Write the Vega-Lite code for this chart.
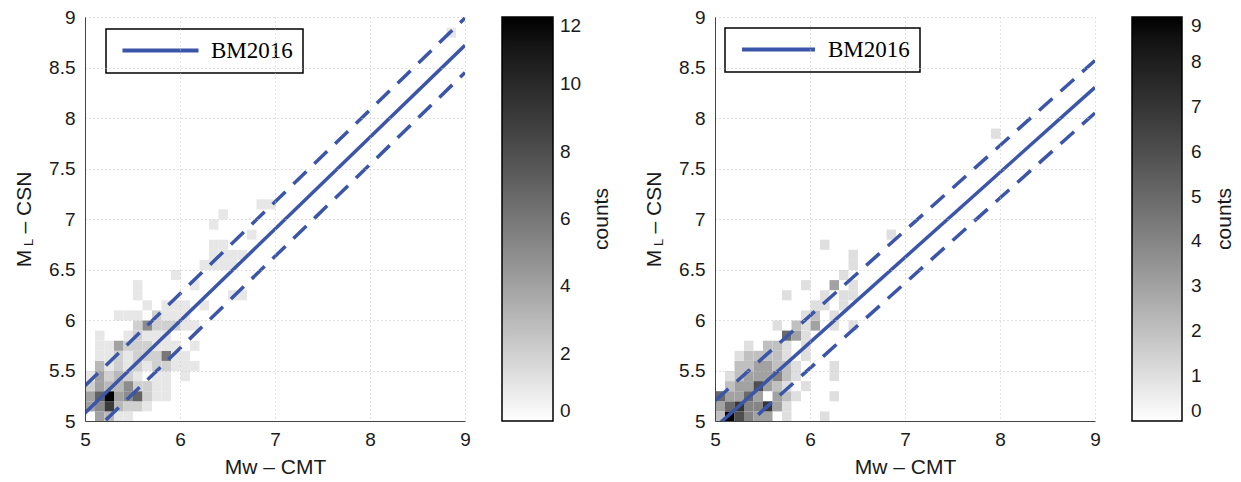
{
  "$schema": "https://vega.github.io/schema/vega-lite/v6.json",
  "background": "white",
  "padding": {"left": 13, "top": 8, "right": 5, "bottom": 5},
  "spacing": 31,
  "resolve": {
    "scale": {"fill": "independent", "stroke": "independent", "x": "independent", "y": "independent"},
    "legend": {"fill": "independent", "stroke": "independent"}
  },
  "datasets": {
    "cells_a": [
      {"mw": 5.1, "ml": 5.0, "n": 4}, {"mw": 5.2, "ml": 5.0, "n": 3}, {"mw": 5.3, "ml": 5.0, "n": 1}, {"mw": 5.4, "ml": 5.0, "n": 1},
      {"mw": 5.0, "ml": 5.1, "n": 4}, {"mw": 5.1, "ml": 5.1, "n": 5}, {"mw": 5.2, "ml": 5.1, "n": 9}, {"mw": 5.3, "ml": 5.1, "n": 3}, {"mw": 5.4, "ml": 5.1, "n": 2}, {"mw": 5.5, "ml": 5.1, "n": 2}, {"mw": 5.6, "ml": 5.1, "n": 1},
      {"mw": 5.0, "ml": 5.2, "n": 4}, {"mw": 5.1, "ml": 5.2, "n": 7}, {"mw": 5.2, "ml": 5.2, "n": 12}, {"mw": 5.3, "ml": 5.2, "n": 4}, {"mw": 5.4, "ml": 5.2, "n": 5}, {"mw": 5.5, "ml": 5.2, "n": 7}, {"mw": 5.6, "ml": 5.2, "n": 2}, {"mw": 5.7, "ml": 5.2, "n": 1}, {"mw": 5.8, "ml": 5.2, "n": 1},
      {"mw": 5.0, "ml": 5.3, "n": 2}, {"mw": 5.1, "ml": 5.3, "n": 4}, {"mw": 5.2, "ml": 5.3, "n": 3}, {"mw": 5.3, "ml": 5.3, "n": 3}, {"mw": 5.4, "ml": 5.3, "n": 5}, {"mw": 5.5, "ml": 5.3, "n": 2}, {"mw": 5.6, "ml": 5.3, "n": 2}, {"mw": 5.7, "ml": 5.3, "n": 1}, {"mw": 5.8, "ml": 5.3, "n": 1},
      {"mw": 5.0, "ml": 5.4, "n": 1}, {"mw": 5.1, "ml": 5.4, "n": 4}, {"mw": 5.2, "ml": 5.4, "n": 2}, {"mw": 5.3, "ml": 5.4, "n": 3}, {"mw": 5.4, "ml": 5.4, "n": 2}, {"mw": 5.5, "ml": 5.4, "n": 1}, {"mw": 5.7, "ml": 5.4, "n": 1}, {"mw": 5.8, "ml": 5.4, "n": 1}, {"mw": 6.0, "ml": 5.4, "n": 1},
      {"mw": 5.1, "ml": 5.5, "n": 3}, {"mw": 5.2, "ml": 5.5, "n": 1}, {"mw": 5.3, "ml": 5.5, "n": 2}, {"mw": 5.4, "ml": 5.5, "n": 1}, {"mw": 5.5, "ml": 5.5, "n": 2}, {"mw": 5.6, "ml": 5.5, "n": 1}, {"mw": 5.7, "ml": 5.5, "n": 2}, {"mw": 5.8, "ml": 5.5, "n": 2}, {"mw": 5.9, "ml": 5.5, "n": 1}, {"mw": 6.0, "ml": 5.5, "n": 1}, {"mw": 6.1, "ml": 5.5, "n": 1},
      {"mw": 5.1, "ml": 5.6, "n": 1}, {"mw": 5.2, "ml": 5.6, "n": 1}, {"mw": 5.3, "ml": 5.6, "n": 2}, {"mw": 5.4, "ml": 5.6, "n": 1}, {"mw": 5.5, "ml": 5.6, "n": 2}, {"mw": 5.6, "ml": 5.6, "n": 2}, {"mw": 5.7, "ml": 5.6, "n": 2}, {"mw": 5.8, "ml": 5.6, "n": 6}, {"mw": 5.9, "ml": 5.6, "n": 1}, {"mw": 6.0, "ml": 5.6, "n": 1},
      {"mw": 5.1, "ml": 5.7, "n": 1}, {"mw": 5.2, "ml": 5.7, "n": 1}, {"mw": 5.3, "ml": 5.7, "n": 4}, {"mw": 5.4, "ml": 5.7, "n": 2}, {"mw": 5.5, "ml": 5.7, "n": 2}, {"mw": 5.6, "ml": 5.7, "n": 2}, {"mw": 5.7, "ml": 5.7, "n": 1}, {"mw": 5.8, "ml": 5.7, "n": 1}, {"mw": 5.9, "ml": 5.7, "n": 1}, {"mw": 6.1, "ml": 5.7, "n": 1},
      {"mw": 5.1, "ml": 5.8, "n": 1}, {"mw": 5.4, "ml": 5.8, "n": 1}, {"mw": 5.5, "ml": 5.8, "n": 2}, {"mw": 5.6, "ml": 5.8, "n": 1}, {"mw": 5.7, "ml": 5.8, "n": 1}, {"mw": 5.8, "ml": 5.8, "n": 1},
      {"mw": 5.5, "ml": 5.9, "n": 2}, {"mw": 5.6, "ml": 5.9, "n": 5}, {"mw": 5.7, "ml": 5.9, "n": 2}, {"mw": 5.8, "ml": 5.9, "n": 2}, {"mw": 5.9, "ml": 5.9, "n": 2}, {"mw": 6.0, "ml": 5.9, "n": 1}, {"mw": 6.1, "ml": 5.9, "n": 1},
      {"mw": 5.3, "ml": 6.0, "n": 1}, {"mw": 5.4, "ml": 6.0, "n": 1}, {"mw": 5.5, "ml": 6.0, "n": 1}, {"mw": 5.7, "ml": 6.0, "n": 2}, {"mw": 5.8, "ml": 6.0, "n": 1}, {"mw": 5.9, "ml": 6.0, "n": 1}, {"mw": 6.0, "ml": 6.0, "n": 1},
      {"mw": 5.6, "ml": 6.1, "n": 1}, {"mw": 5.8, "ml": 6.1, "n": 1}, {"mw": 5.9, "ml": 6.1, "n": 1}, {"mw": 6.0, "ml": 6.1, "n": 1}, {"mw": 6.2, "ml": 6.1, "n": 1},
      {"mw": 5.5, "ml": 6.2, "n": 1}, {"mw": 6.5, "ml": 6.2, "n": 1}, {"mw": 6.6, "ml": 6.2, "n": 1},
      {"mw": 5.5, "ml": 6.3, "n": 1}, {"mw": 6.1, "ml": 6.3, "n": 1},
      {"mw": 5.9, "ml": 6.4, "n": 1},
      {"mw": 6.2, "ml": 6.5, "n": 1}, {"mw": 6.3, "ml": 6.5, "n": 1}, {"mw": 6.4, "ml": 6.5, "n": 1}, {"mw": 6.5, "ml": 6.5, "n": 1},
      {"mw": 6.3, "ml": 6.6, "n": 1}, {"mw": 6.4, "ml": 6.6, "n": 1}, {"mw": 6.5, "ml": 6.6, "n": 1}, {"mw": 6.6, "ml": 6.6, "n": 1},
      {"mw": 6.3, "ml": 6.7, "n": 1}, {"mw": 6.4, "ml": 6.7, "n": 1},
      {"mw": 6.7, "ml": 6.8, "n": 1},
      {"mw": 6.3, "ml": 6.9, "n": 1},
      {"mw": 6.4, "ml": 7.0, "n": 1},
      {"mw": 6.8, "ml": 7.1, "n": 1}, {"mw": 6.9, "ml": 7.1, "n": 1},
      {"mw": 8.8, "ml": 8.8, "n": 1}
    ],
    "cells_b": [
      {"mw": 5.0, "ml": 5.0, "n": 2}, {"mw": 5.1, "ml": 5.0, "n": 9}, {"mw": 5.2, "ml": 5.0, "n": 6}, {"mw": 5.3, "ml": 5.0, "n": 4}, {"mw": 5.4, "ml": 5.0, "n": 3}, {"mw": 5.5, "ml": 5.0, "n": 3}, {"mw": 5.7, "ml": 5.0, "n": 1}, {"mw": 6.1, "ml": 5.0, "n": 1},
      {"mw": 5.0, "ml": 5.1, "n": 3}, {"mw": 5.1, "ml": 5.1, "n": 5}, {"mw": 5.2, "ml": 5.1, "n": 7}, {"mw": 5.3, "ml": 5.1, "n": 4}, {"mw": 5.4, "ml": 5.1, "n": 4}, {"mw": 5.5, "ml": 5.1, "n": 7}, {"mw": 5.6, "ml": 5.1, "n": 3}, {"mw": 5.7, "ml": 5.1, "n": 1},
      {"mw": 5.0, "ml": 5.2, "n": 5}, {"mw": 5.1, "ml": 5.2, "n": 3}, {"mw": 5.2, "ml": 5.2, "n": 3}, {"mw": 5.3, "ml": 5.2, "n": 5}, {"mw": 5.4, "ml": 5.2, "n": 3}, {"mw": 5.6, "ml": 5.2, "n": 3}, {"mw": 5.7, "ml": 5.2, "n": 2}, {"mw": 5.8, "ml": 5.2, "n": 1}, {"mw": 6.2, "ml": 5.2, "n": 1},
      {"mw": 5.1, "ml": 5.3, "n": 2}, {"mw": 5.2, "ml": 5.3, "n": 3}, {"mw": 5.3, "ml": 5.3, "n": 3}, {"mw": 5.4, "ml": 5.3, "n": 6}, {"mw": 5.5, "ml": 5.3, "n": 3}, {"mw": 5.6, "ml": 5.3, "n": 2}, {"mw": 5.7, "ml": 5.3, "n": 1}, {"mw": 5.9, "ml": 5.3, "n": 1},
      {"mw": 5.1, "ml": 5.4, "n": 1}, {"mw": 5.2, "ml": 5.4, "n": 2}, {"mw": 5.3, "ml": 5.4, "n": 3}, {"mw": 5.4, "ml": 5.4, "n": 3}, {"mw": 5.5, "ml": 5.4, "n": 3}, {"mw": 5.6, "ml": 5.4, "n": 4}, {"mw": 5.7, "ml": 5.4, "n": 2}, {"mw": 5.8, "ml": 5.4, "n": 1}, {"mw": 6.2, "ml": 5.4, "n": 1},
      {"mw": 5.2, "ml": 5.5, "n": 2}, {"mw": 5.3, "ml": 5.5, "n": 2}, {"mw": 5.4, "ml": 5.5, "n": 3}, {"mw": 5.5, "ml": 5.5, "n": 3}, {"mw": 5.6, "ml": 5.5, "n": 2}, {"mw": 5.7, "ml": 5.5, "n": 2}, {"mw": 5.8, "ml": 5.5, "n": 1}, {"mw": 6.2, "ml": 5.5, "n": 1},
      {"mw": 5.2, "ml": 5.6, "n": 1}, {"mw": 5.3, "ml": 5.6, "n": 2}, {"mw": 5.4, "ml": 5.6, "n": 2}, {"mw": 5.5, "ml": 5.6, "n": 2}, {"mw": 5.6, "ml": 5.6, "n": 2}, {"mw": 5.7, "ml": 5.6, "n": 1}, {"mw": 5.9, "ml": 5.6, "n": 1},
      {"mw": 5.3, "ml": 5.7, "n": 1}, {"mw": 5.5, "ml": 5.7, "n": 2}, {"mw": 5.6, "ml": 5.7, "n": 2}, {"mw": 5.7, "ml": 5.7, "n": 1}, {"mw": 5.9, "ml": 5.7, "n": 1},
      {"mw": 5.7, "ml": 5.8, "n": 5}, {"mw": 5.8, "ml": 5.8, "n": 3}, {"mw": 5.9, "ml": 5.8, "n": 1},
      {"mw": 5.6, "ml": 5.9, "n": 1}, {"mw": 5.8, "ml": 5.9, "n": 2}, {"mw": 5.9, "ml": 5.9, "n": 1}, {"mw": 6.0, "ml": 5.9, "n": 3}, {"mw": 6.2, "ml": 5.9, "n": 1}, {"mw": 6.4, "ml": 5.9, "n": 1},
      {"mw": 5.9, "ml": 6.0, "n": 1}, {"mw": 6.0, "ml": 6.0, "n": 2}, {"mw": 6.2, "ml": 6.0, "n": 1},
      {"mw": 6.0, "ml": 6.1, "n": 1}, {"mw": 6.1, "ml": 6.1, "n": 1}, {"mw": 6.3, "ml": 6.1, "n": 1},
      {"mw": 5.7, "ml": 6.2, "n": 1}, {"mw": 6.1, "ml": 6.2, "n": 1}, {"mw": 6.3, "ml": 6.2, "n": 1}, {"mw": 6.4, "ml": 6.2, "n": 1},
      {"mw": 5.9, "ml": 6.3, "n": 1}, {"mw": 6.2, "ml": 6.3, "n": 3}, {"mw": 6.4, "ml": 6.3, "n": 1},
      {"mw": 6.3, "ml": 6.4, "n": 1},
      {"mw": 6.4, "ml": 6.5, "n": 1},
      {"mw": 6.4, "ml": 6.6, "n": 1},
      {"mw": 6.1, "ml": 6.7, "n": 1},
      {"mw": 6.8, "ml": 6.8, "n": 1},
      {"mw": 7.9, "ml": 7.8, "n": 1}
    ],
    "lines_a": [
      {"mw": 5, "ml": 5.08, "band": "fit", "model": "BM2016"},
      {"mw": 9, "ml": 8.72, "band": "fit", "model": "BM2016"},
      {"mw": 5, "ml": 5.35, "band": "upper", "model": "BM2016"},
      {"mw": 9, "ml": 8.99, "band": "upper", "model": "BM2016"},
      {"mw": 5, "ml": 4.81, "band": "lower", "model": "BM2016"},
      {"mw": 9, "ml": 8.45, "band": "lower", "model": "BM2016"}
    ],
    "lines_b": [
      {"mw": 5, "ml": 4.936, "band": "fit", "model": "BM2016"},
      {"mw": 9, "ml": 8.304, "band": "fit", "model": "BM2016"},
      {"mw": 5, "ml": 5.2, "band": "upper", "model": "BM2016"},
      {"mw": 9, "ml": 8.57, "band": "upper", "model": "BM2016"},
      {"mw": 5, "ml": 4.68, "band": "lower", "model": "BM2016"},
      {"mw": 9, "ml": 8.05, "band": "lower", "model": "BM2016"}
    ]
  },
  "hconcat": [
    {
      "width": 380,
      "height": 404,
      "resolve": {"axis": {"y": "independent"}},
      "layer": [
        {
          "data": {"name": "cells_a"},
          "mark": {"type": "rect"},
          "encoding": {
            "x": {"field": "mw", "type": "quantitative", "bin": {"binned": true, "step": 0.1}, "title": "Mw – CMT",
                  "scale": {"domain": [5, 9], "nice": false, "zero": false},
                  "axis": {"values": [5, 6, 7, 8, 9], "format": "~g"}},
            "y": {"field": "ml", "type": "quantitative", "bin": {"binned": true, "step": 0.1}, "title": "M\u2002 – CSN",
                  "scale": {"domain": [5, 9], "nice": false, "zero": false},
                  "axis": {"values": [5, 5.5, 6, 6.5, 7, 7.5, 8, 8.5, 9], "format": "~g"}},
            "fill": {"field": "n", "type": "quantitative",
                     "scale": {"domain": [0, 12], "range": ["#ffffff", "#000000"]},
                     "legend": {"type": "gradient", "direction": "vertical", "orient": "right", "offset": 37, "padding": 0,
                                "gradientLength": 404, "gradientThickness": 51, "gradientStrokeColor": "#000", "gradientStrokeWidth": 1.5,
                                "values": [0, 2, 4, 6, 8, 10, 12], "labelOffset": 7, "labelOverlap": false,
                                "title": "counts", "titleOrient": "right", "titleAnchor": "middle", "titlePadding": 10,
                                "encode": {"title": {"update": {"angle": {"value": 270}, "baseline": {"value": "top"}}}}}}
          }
        },
        {
          "data": {"name": "lines_a"},
          "transform": [{"filter": "datum.band === 'fit'"}],
          "mark": {"type": "line", "clip": true, "strokeWidth": 3.5},
          "encoding": {
            "x": {"field": "mw", "type": "quantitative", "title": "Mw – CMT"},
            "y": {"field": "ml", "type": "quantitative", "axis": null},
            "stroke": {"field": "model", "type": "nominal", "scale": {"range": ["#3b56a8"]},
                       "legend": {"orient": "none", "legendX": 21, "legendY": 12, "title": null, "padding": 10,
                                  "strokeColor": "#000", "fillColor": "#fff",
                                  "symbolType": "M-7.6,0H7.6", "symbolSize": 100, "symbolStrokeWidth": 4, "symbolOffset": 33,
                                  "labelOffset": 39, "labelFont": "Liberation Serif", "labelFontSize": 23, "labelColor": "#000",
                                  "encode": {"legend": {"update": {"strokeWidth": {"value": 1.5}}}}}}
          }
        },
        {
          "data": {"name": "lines_a"},
          "transform": [{"filter": "datum.band !== 'fit'"}],
          "mark": {"type": "line", "clip": true, "strokeWidth": 3.5, "strokeDash": [18, 11], "color": "#3b56a8"},
          "encoding": {
            "x": {"field": "mw", "type": "quantitative", "title": "Mw – CMT"},
            "y": {"field": "ml", "type": "quantitative",
                  "axis": {"orient": "right", "labels": false, "ticks": false, "domain": false, "grid": false,
                           "title": "L", "titleFontSize": 13, "titleAngle": 270, "titleAlign": "center", "titleBaseline": "alphabetic",
                           "titleX": -433, "titleY": 225}},
            "detail": {"field": "band", "type": "nominal"}
          }
        }
      ]
    },
    {
      "width": 380,
      "height": 404,
      "resolve": {"axis": {"y": "independent"}},
      "layer": [
        {
          "data": {"name": "cells_b"},
          "mark": {"type": "rect"},
          "encoding": {
            "x": {"field": "mw", "type": "quantitative", "bin": {"binned": true, "step": 0.1}, "title": "Mw – CMT",
                  "scale": {"domain": [5, 9], "nice": false, "zero": false},
                  "axis": {"values": [5, 6, 7, 8, 9], "format": "~g"}},
            "y": {"field": "ml", "type": "quantitative", "bin": {"binned": true, "step": 0.1}, "title": "M\u2002 – CSN",
                  "scale": {"domain": [5, 9], "nice": false, "zero": false},
                  "axis": {"values": [5, 5.5, 6, 6.5, 7, 7.5, 8, 8.5, 9], "format": "~g"}},
            "fill": {"field": "n", "type": "quantitative",
                     "scale": {"domain": [0, 9], "range": ["#ffffff", "#000000"]},
                     "legend": {"type": "gradient", "direction": "vertical", "orient": "right", "offset": 37, "padding": 0,
                                "gradientLength": 404, "gradientThickness": 50, "gradientStrokeColor": "#000", "gradientStrokeWidth": 1.5,
                                "values": [0, 1, 2, 3, 4, 5, 6, 7, 8, 9], "labelOffset": 9, "labelOverlap": false,
                                "title": "counts", "titleOrient": "right", "titleAnchor": "middle", "titlePadding": 12,
                                "encode": {"title": {"update": {"angle": {"value": 270}, "baseline": {"value": "top"}}}}}}
          }
        },
        {
          "data": {"name": "lines_b"},
          "transform": [{"filter": "datum.band === 'fit'"}],
          "mark": {"type": "line", "clip": true, "strokeWidth": 3.5},
          "encoding": {
            "x": {"field": "mw", "type": "quantitative", "title": "Mw – CMT"},
            "y": {"field": "ml", "type": "quantitative", "axis": null},
            "stroke": {"field": "model", "type": "nominal", "scale": {"range": ["#3b56a8"]},
                       "legend": {"orient": "none", "legendX": 10, "legendY": 11, "title": null, "padding": 10,
                                  "strokeColor": "#000", "fillColor": "#fff",
                                  "symbolType": "M-7.3,0H7.3", "symbolSize": 100, "symbolStrokeWidth": 4, "symbolOffset": 32,
                                  "labelOffset": 38, "labelFont": "Liberation Serif", "labelFontSize": 23, "labelColor": "#000",
                                  "encode": {"legend": {"update": {"strokeWidth": {"value": 1.5}}}}}}
          }
        },
        {
          "data": {"name": "lines_b"},
          "transform": [{"filter": "datum.band !== 'fit'"}],
          "mark": {"type": "line", "clip": true, "strokeWidth": 3.5, "strokeDash": [18, 11], "color": "#3b56a8"},
          "encoding": {
            "x": {"field": "mw", "type": "quantitative", "title": "Mw – CMT"},
            "y": {"field": "ml", "type": "quantitative",
                  "axis": {"orient": "right", "labels": false, "ticks": false, "domain": false, "grid": false,
                           "title": "L", "titleFontSize": 13, "titleAngle": 270, "titleAlign": "center", "titleBaseline": "alphabetic",
                           "titleX": -433, "titleY": 225}},
            "detail": {"field": "band", "type": "nominal"}
          }
        }
      ]
    }
  ],
  "config": {
    "view": {"stroke": null},
    "font": "Liberation Sans",
    "axis": {
      "labelFont": "Liberation Sans", "labelFontSize": 19, "labelColor": "#1a1a1a", "labelFlush": false,
      "titleFont": "Liberation Sans", "titleFontSize": 21, "titleFontWeight": "normal", "titleColor": "#1a1a1a",
      "ticks": false, "domainColor": "#444", "domainWidth": 1,
      "grid": true, "gridColor": "#c4c4c4", "gridDash": [1, 3], "gridWidth": 1, "labelPadding": 9
    },
    "axisX": {"titlePadding": 7},
    "axisY": {"labelPadding": 10, "titlePadding": 14},
    "legend": {
      "labelFont": "Liberation Sans", "labelFontSize": 19, "labelColor": "#1a1a1a",
      "titleFont": "Liberation Sans", "titleFontSize": 21, "titleFontWeight": "normal", "titleColor": "#1a1a1a"
    }
  }
}
